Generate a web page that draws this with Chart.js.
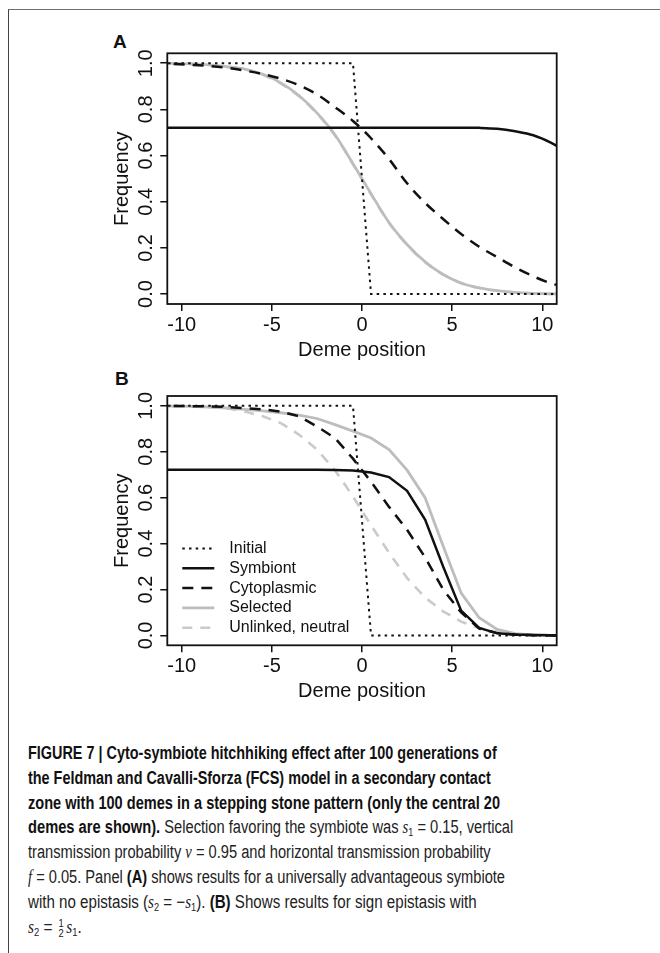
<!DOCTYPE html>
<html lang="en">
<head>
  <meta charset="UTF-8" />
  <title>Figure 7</title>
  <script src="https://cdn.jsdelivr.net/npm/chart.js"></script>
  <style>
    html, body { margin: 0; padding: 0; background: #fff; }
    body { width: 660px; height: 953px; position: relative; overflow: hidden; font-family: "Liberation Sans", Arial, sans-serif; }
    .frame { position: absolute; left: 8px; top: 9px; width: 700px; height: 1000px;
             border-top: 1.5px solid #707070; border-left: 1.5px solid #444; }
    canvas { position: absolute; left: 0; }
    #chartA { top: 0; }
    #chartB { top: 360px; }
    .panel { position: absolute; font-weight: bold; font-size: 19px; line-height: 1; color: #111; }
    #caption { position: absolute; left: 28px; top: 741px; font-size: 18px; line-height: 24.8px;
               color: #222; white-space: nowrap;
               font-family: "Liberation Sans Narrow", "Liberation Sans", Arial, sans-serif; }
    #caption .ln { display: block; height: 24.8px; }
    #caption .ln > span { display: inline-block; transform-origin: left center; }
    #caption b { font-weight: bold; color: #111; }
    #caption i { font-family: "Liberation Serif", serif; font-size: 18px; }
    #caption sub { font-size: 11px; vertical-align: -3px; line-height: 0; }
    .frac { display: inline-flex; flex-direction: column; font-size: 11px; line-height: 10px;
            vertical-align: 6px; text-align: center; margin: 0 3px 0 2px; }
  </style>
</head>
<body>
  <div class="frame"></div>
  <div class="panel" style="left:113px; top:32px;">A</div>
  <div class="panel" style="left:115px; top:369px;">B</div>
  <canvas id="chartA" width="660" height="370"></canvas>
  <canvas id="chartB" width="660" height="345"></canvas>

  <div id="caption">
    <div class="ln"><span><b>FIGURE 7 | Cyto-symbiote hitchhiking effect after 100 generations of</b></span></div>
    <div class="ln"><span><b>the Feldman and Cavalli-Sforza (FCS) model in a secondary contact</b></span></div>
    <div class="ln"><span><b>zone with 100 demes in a stepping stone pattern (only the central 20</b></span></div>
    <div class="ln"><span><b>demes are shown).</b> Selection favoring the symbiote was <i>s</i><sub>1</sub> = 0.15, vertical</span></div>
    <div class="ln"><span>transmission probability <i>v</i> = 0.95 and horizontal transmission probability</span></div>
    <div class="ln"><span><i>f</i> = 0.05. Panel <b>(A)</b> shows results for a universally advantageous symbiote</span></div>
    <div class="ln"><span>with no epistasis (<i>s</i><sub>2</sub> = &minus;<i>s</i><sub>1</sub>). <b>(B)</b> Shows results for sign epistasis with</span></div>
    <div class="ln"><span><i>s</i><sub>2</sub> = <span class="frac"><span>1</span><span>2</span></span><i>s</i><sub>1</sub>.</span></div>
  </div>

  <script>
    // deme positions (centre of each deme) and axis ticks
    const demePos = [-11.5, -10.5, -9.5, -8.5, -7.5, -6.5, -5.5, -4.5, -3.5, -2.5, -1.5, -0.5,
                     0.5, 1.5, 2.5, 3.5, 4.5, 5.5, 6.5, 7.5, 8.5, 9.5, 10.5, 11.5];
    const demeTicks = [-10, -5, 0, 5, 10];
    const freqTicks = [0, 0.2, 0.4, 0.6, 0.8, 1.0];
    const seriesNames = ['Initial', 'Symbiont', 'Cytoplasmic', 'Selected', 'Unlinked, neutral'];

    // initial step cline
    const initialPos = [-11.5, -0.5, 0.5, 11.5];
    const initialFreq = [1, 1, 0, 0];

    // panel A: no epistasis
    const symbiontA = [0.721, 0.721, 0.721, 0.721, 0.721, 0.721, 0.721, 0.721, 0.721, 0.721, 0.721, 0.721,
                       0.721, 0.721, 0.721, 0.721, 0.721, 0.721, 0.720, 0.716, 0.705, 0.688, 0.655, 0.61];
    const cytoA = [1, 0.997, 0.993, 0.988, 0.98, 0.968, 0.953, 0.933, 0.905, 0.865, 0.81, 0.75,
                   0.675, 0.585, 0.48, 0.395, 0.325, 0.26, 0.205, 0.16, 0.115, 0.077, 0.046, 0.027];
    const selectedA = [1, 0.999, 0.997, 0.993, 0.985, 0.975, 0.952, 0.915, 0.86, 0.785, 0.69, 0.565,
                       0.435, 0.31, 0.215, 0.14, 0.085, 0.048, 0.027, 0.015, 0.007, 0.003, 0.001, 0];
    const unlinkedA = [1, 0.999, 0.997, 0.992, 0.984, 0.973, 0.95, 0.912, 0.857, 0.782, 0.687, 0.562,
                       0.432, 0.308, 0.213, 0.138, 0.084, 0.047, 0.026, 0.014, 0.007, 0.003, 0.001, 0];

    // panel B: sign epistasis
    const symbiontB = [0.722, 0.722, 0.722, 0.722, 0.722, 0.722, 0.722, 0.722, 0.722, 0.722, 0.721, 0.718,
                       0.71, 0.69, 0.63, 0.505, 0.30, 0.108, 0.033, 0.009, 0.004, 0.002, 0.001, 0];
    const cytoB = [1, 1, 0.999, 0.998, 0.995, 0.99, 0.985, 0.975, 0.955, 0.91, 0.86, 0.77,
                   0.67, 0.56, 0.46, 0.34, 0.20, 0.10, 0.03, 0.01, 0.003, 0.001, 0, 0];
    const selectedB = [1, 0.999, 0.998, 0.995, 0.99, 0.985, 0.978, 0.97, 0.96, 0.945, 0.918, 0.89,
                       0.86, 0.81, 0.72, 0.60, 0.39, 0.185, 0.077, 0.026, 0.008, 0.002, 0, 0];
    const unlinkedB = [1, 0.999, 0.998, 0.995, 0.99, 0.975, 0.955, 0.925, 0.875, 0.81, 0.72, 0.605,
                       0.48, 0.36, 0.25, 0.165, 0.105, 0.06, 0.032, 0.015, 0.006, 0.002, 0, 0];

    const styles = [
      { color: '#111', width: 2, dash: [2.5, 4.2] },
      { color: '#111', width: 2.5, dash: [] },
      { color: '#111', width: 2.5, dash: [11, 8] },
      { color: '#bdbdbd', width: 2.8, dash: [] },
      { color: '#cacaca', width: 2.6, dash: [10, 8] }
    ];

    const FONT = "'Liberation Sans', Arial, sans-serif";

    function toPoints(xs, ys) {
      return xs.map((x, i) => ({ x: x, y: ys[i] }));
    }

    function makeDatasets(series, smooth) {
      return series.map((pts, i) => ({
        label: seriesNames[i],
        data: pts,
        borderColor: styles[i].color,
        borderWidth: styles[i].width,
        borderDash: styles[i].dash,
        pointRadius: 0,
        fill: false,
        clip: 0,
        tension: 0,
        cubicInterpolationMode: (smooth && i > 0) ? 'monotone' : 'default'
      }));
    }

    // R style box around the plotting region
    const boxPlugin = {
      id: 'plotBox',
      afterDraw(chart) {
        const { ctx, chartArea: a } = chart;
        ctx.save();
        ctx.strokeStyle = '#111';
        ctx.lineWidth = 1.8;
        ctx.strokeRect(a.left, a.top, a.right - a.left, a.bottom - a.top);
        ctx.restore();
      }
    };

    // legend drawn inside the plot, bottom-left
    const insideLegend = {
      id: 'insideLegend',
      afterDatasetsDraw(chart, args, opts) {
        if (!opts.display) return;
        const { ctx, chartArea: a } = chart;
        const sets = chart.data.datasets;
        const x0 = a.left + 15;
        const rowH = 19.8;
        const yLast = a.bottom - 17.6;
        ctx.save();
        ctx.font = '16px ' + FONT;
        ctx.textBaseline = 'middle';
        sets.forEach((ds, i) => {
          const y = yLast - (sets.length - 1 - i) * rowH;
          ctx.strokeStyle = ds.borderColor;
          ctx.lineWidth = ds.borderWidth;
          ctx.setLineDash(ds.borderDash);
          ctx.beginPath();
          ctx.moveTo(x0, y);
          ctx.lineTo(x0 + 32, y);
          ctx.stroke();
          ctx.fillStyle = '#111';
          ctx.fillText(ds.label, x0 + 47, y);
        });
        ctx.restore();
      }
    };

    function makePanel(id, series, smooth, box) {
      new Chart(document.getElementById(id), {
        type: 'line',
        data: { datasets: makeDatasets(series, smooth) },
        plugins: [boxPlugin, insideLegend],
        options: {
          responsive: false,
          animation: false,
          devicePixelRatio: 1,
          layout: { padding: { top: box.top, right: 103.3, left: 0, bottom: 0 } },
          plugins: {
            legend: { display: false },
            tooltip: { enabled: false },
            insideLegend: { display: box.legend }
          },
          scales: {
            x: {
              type: 'linear',
              min: -10.8,
              max: 10.8,
              afterBuildTicks: s => { s.ticks = demeTicks.map(v => ({ value: v })); },
              afterFit: s => { s.height = box.xHeight; },
              border: { display: false },
              grid: { drawOnChartArea: false, drawTicks: true, tickLength: 7, color: '#111', lineWidth: 1.5 },
              ticks: { color: '#111', font: { size: 20, family: FONT }, padding: 2,
                       maxRotation: 0, callback: v => String(v) },
              title: { display: true, text: 'Deme position', color: '#111',
                       font: { size: 20, family: FONT }, padding: { top: 0, bottom: box.titlePad } }
            },
            y: {
              type: 'linear',
              min: -0.043,
              max: 1.043,
              afterBuildTicks: s => { s.ticks = freqTicks.map(v => ({ value: v })); },
              afterFit: s => { s.width = 167.3; },
              border: { display: false },
              grid: { drawOnChartArea: false, drawTicks: true, tickLength: 7, color: '#111', lineWidth: 1.5 },
              ticks: { color: '#111', font: { size: 20, family: FONT }, padding: 0,
                       minRotation: 90, maxRotation: 90, crossAlign: 'center',
                       callback: v => v.toFixed(1) },
              title: { display: true, text: 'Frequency', color: '#111',
                       font: { size: 20, family: FONT }, padding: { top: 110, bottom: 0 } }
            }
          }
        }
      });
    }

    const seriesA = [toPoints(initialPos, initialFreq), toPoints(demePos, symbiontA), toPoints(demePos, cytoA),
                     toPoints(demePos, selectedA), toPoints(demePos, unlinkedA)];
    const seriesB = [toPoints(initialPos, initialFreq), toPoints(demePos, symbiontB), toPoints(demePos, cytoB),
                     toPoints(demePos, selectedB), toPoints(demePos, unlinkedB)];

    makePanel('chartA', seriesA, true, { top: 53.3, xHeight: 66, titlePad: 8, legend: false });
    makePanel('chartB', seriesB, false, { top: 36, xHeight: 59.7, titlePad: 1.3, legend: true });

    // fit each caption line to the width it has in the condensed original
    const captionWidths = [468.7, 462.7, 472, 485.3, 462.7, 477, 448.7, 53.7];
    document.querySelectorAll('#caption .ln > span').forEach((el, i) => {
      const w = el.getBoundingClientRect().width;
      el.style.transform = 'scaleX(' + (captionWidths[i] / w) + ')';
    });
  </script>
</body>
</html>
